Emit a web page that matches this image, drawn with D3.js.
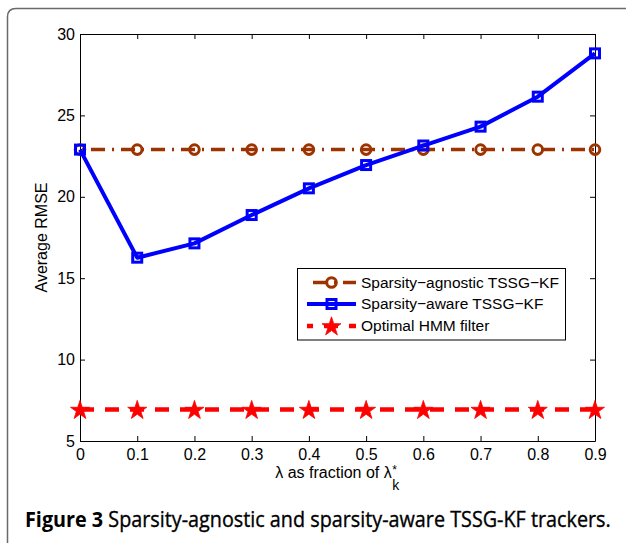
<!DOCTYPE html>
<html>
<head>
<meta charset="utf-8">
<script src="https://cdn.jsdelivr.net/npm/d3@7"></script>
<style>
  html, body { margin: 0; padding: 0; background: #fff; }
  svg { display: block; }
</style>
</head>
<body>
<svg id="chart" width="626" height="543"></svg>
<script>
// ---------------- data ----------------
const xValues = [0, 0.1, 0.2, 0.3, 0.4, 0.5, 0.6, 0.7, 0.8, 0.9];
const xTickLabels = ["0", "0.1", "0.2", "0.3", "0.4", "0.5", "0.6", "0.7", "0.8", "0.9"];
const yTickValues = [5, 10, 15, 20, 25, 30];
const agnosticValues = [22.9, 22.9, 22.9, 22.9, 22.9, 22.9, 22.9, 22.9, 22.9, 22.9];
const awareValues = [22.9, 16.26, 17.14, 18.88, 20.52, 21.95, 23.15, 24.31, 26.15, 28.81];
const hmmValues = [6.93, 6.93, 6.93, 6.93, 6.93, 6.93, 6.93, 6.93, 6.93, 6.93];
const seriesNames = ["Sparsity\u2212agnostic TSSG\u2212KF", "Sparsity\u2212aware TSSG\u2212KF", "Optimal HMM filter"];
const yLabel = "Average RMSE";
const captionBold = "Figure 3";
const captionRest = " Sparsity-agnostic and sparsity-aware TSSG-KF trackers.";

// ---------------- layout ----------------
const svg = d3.select("#chart");
const L = 80, R = 595, T = 34, B = 441;
const x = d3.scaleLinear().domain([0, 0.9]).range([L, R]);
const y = d3.scaleLinear().domain([5, 30]).range([B, T]);
const FONT = "'Liberation Sans', Arial, Helvetica, sans-serif";
const FS = 16;
const brown = "#9c3300", blue = "#0000ff", red = "#ff0000";

// outer figure frame (rounded top-left corner)
svg.append("path")
  .attr("d", "M7.5,560 L7.5,17 Q7.5,8.5 16,8.5 L640,8.5")
  .attr("fill", "none").attr("stroke", "#6a6a6a").attr("stroke-width", 1.5);

// plot background
svg.append("rect").attr("x", L).attr("y", T).attr("width", R - L).attr("height", B - T)
  .attr("fill", "#fff");

// axes
function styleAxis(g) {
  g.selectAll("path.domain").attr("stroke", "#000").attr("stroke-width", 1);
  g.selectAll(".tick line").attr("stroke", "#000").attr("stroke-width", 1);
  g.selectAll("text").attr("font-family", FONT).attr("font-size", FS).attr("fill", "#000");
}
svg.append("g").attr("transform", `translate(0,${B})`)
  .call(d3.axisBottom(x).tickValues(xValues).tickFormat((d, i) => xTickLabels[i])
    .tickSize(-5).tickSizeOuter(0).tickPadding(8))
  .call(styleAxis);
svg.append("g").attr("transform", `translate(0,${T})`)
  .call(d3.axisTop(x).tickValues(xValues).tickFormat("").tickSize(-5).tickSizeOuter(0))
  .call(styleAxis);
svg.append("g").attr("transform", `translate(${L},0)`)
  .call(d3.axisLeft(y).tickValues(yTickValues).tickFormat(d3.format("d"))
    .tickSize(-5).tickSizeOuter(0).tickPadding(5))
  .call(styleAxis);
svg.append("g").attr("transform", `translate(${R},0)`)
  .call(d3.axisRight(y).tickValues(yTickValues).tickFormat("").tickSize(-5).tickSizeOuter(0))
  .call(styleAxis);

// star path generator
function starPath(R0) {
  const r0 = R0 * 0.382;
  const pts = [];
  for (let i = 0; i < 10; i++) {
    const a = -Math.PI / 2 + i * Math.PI / 5;
    const rr = i % 2 === 0 ? R0 : r0;
    pts.push([rr * Math.cos(a), rr * Math.sin(a)]);
  }
  return "M" + pts.map(p => p[0].toFixed(2) + "," + p[1].toFixed(2)).join("L") + "Z";
}

const line = d3.line().x((d, i) => x(xValues[i])).y(d => y(d));
const plot = svg.append("g");

// agnostic: dash-dot brown with hollow circles
plot.append("path").datum(agnosticValues).attr("d", line)
  .attr("fill", "none").attr("stroke", brown).attr("stroke-width", 3.5)
  .attr("stroke-dasharray", "14,7,2,7").attr("stroke-dashoffset", 19);
plot.selectAll("circle.ag").data(agnosticValues).join("circle").attr("class", "ag")
  .attr("cx", (d, i) => x(xValues[i])).attr("cy", d => y(d)).attr("r", 4.8)
  .attr("fill", "none").attr("stroke", brown).attr("stroke-width", 3);

// aware: solid blue with hollow squares
plot.append("path").datum(awareValues).attr("d", line)
  .attr("fill", "none").attr("stroke", blue).attr("stroke-width", 4).attr("stroke-linejoin", "round");
plot.selectAll("rect.aw").data(awareValues).join("rect").attr("class", "aw")
  .attr("x", (d, i) => x(xValues[i]) - 4.5).attr("y", d => y(d) - 4.5)
  .attr("width", 9).attr("height", 9)
  .attr("fill", "none").attr("stroke", blue).attr("stroke-width", 3);

// HMM: dashed red with stars
plot.append("path").datum(hmmValues).attr("d", line)
  .attr("fill", "none").attr("stroke", red).attr("stroke-width", 4.5)
  .attr("stroke-dasharray", "14,11");
plot.selectAll("path.st").data(hmmValues).join("path").attr("class", "st")
  .attr("transform", (d, i) => `translate(${x(xValues[i])},${y(d) + 0.8})`)
  .attr("d", starPath(10)).attr("fill", red).attr("stroke", red).attr("stroke-width", 0.8);

// axis labels
svg.append("text").attr("transform", `translate(47,${(T + B) / 2}) rotate(-90)`)
  .attr("text-anchor", "middle").attr("font-family", FONT).attr("font-size", FS)
  .text(yLabel);

const xl = svg.append("text").attr("font-family", FONT).attr("font-size", FS)
  .attr("x", 0).attr("y", 478).text("\u03bb as fraction of \u03bb");
const wMain = xl.node().getComputedTextLength();
const xStart = (L + R) / 2 - (wMain + 8) / 2;
xl.attr("x", xStart);
svg.append("text").attr("font-family", FONT).attr("font-size", 12)
  .attr("x", xStart + wMain + 0.5).attr("y", 474).text("*");
svg.append("text").attr("font-family", FONT).attr("font-size", 14)
  .attr("x", xStart + wMain + 0.5).attr("y", 490).text("k");

// legend
const lg = svg.append("g");
lg.append("rect").attr("x", 297.5).attr("y", 268.5).attr("width", 268).attr("height", 71.5)
  .attr("fill", "#fff").attr("stroke", "#000").attr("stroke-width", 1);
const rowsY = [282.5, 304, 326];
const lx1 = 307, lx2 = 356, lmx = 331.5;
// row 1
lg.append("line").attr("x1", lx1).attr("x2", lx2).attr("y1", rowsY[0]).attr("y2", rowsY[0])
  .attr("stroke", brown).attr("stroke-width", 3.5).attr("stroke-dasharray", "14,7,2,7").attr("stroke-dashoffset", 24);
lg.append("circle").attr("cx", lmx).attr("cy", rowsY[0]).attr("r", 4.8)
  .attr("fill", "none").attr("stroke", brown).attr("stroke-width", 3);
// row 2
lg.append("line").attr("x1", lx1).attr("x2", lx2).attr("y1", rowsY[1]).attr("y2", rowsY[1])
  .attr("stroke", blue).attr("stroke-width", 4);
lg.append("rect").attr("x", lmx - 4.5).attr("y", rowsY[1] - 4.5).attr("width", 9).attr("height", 9)
  .attr("fill", "none").attr("stroke", blue).attr("stroke-width", 3);
// row 3
lg.append("line").attr("x1", lx1).attr("x2", lx2).attr("y1", rowsY[2]).attr("y2", rowsY[2])
  .attr("stroke", red).attr("stroke-width", 4.5).attr("stroke-dasharray", "14,11").attr("stroke-dashoffset", 8);
lg.append("path").attr("transform", `translate(${lmx},${rowsY[2] + 0.8})`)
  .attr("d", starPath(10)).attr("fill", red).attr("stroke", red).attr("stroke-width", 0.8);
lg.selectAll("text").data(seriesNames).join("text")
  .attr("x", 361).attr("y", (d, i) => rowsY[i]).attr("dy", "0.35em")
  .attr("font-family", FONT).attr("font-size", 15.5).text(d => d);

// caption
const cap = svg.append("text").attr("x", 25).attr("y", 527)
  .attr("font-family", "'Open Sans', 'Noto Sans', sans-serif").attr("font-size", 21).attr("fill", "#000");
cap.append("tspan").attr("font-weight", "bold").text(captionBold);
cap.append("tspan").attr("stroke", "#000").attr("stroke-width", 0.35).text(captionRest);
const cw = cap.node().getComputedTextLength();
const sx = 586 / cw;
cap.attr("transform", `translate(25,0) scale(${sx},1) translate(-25,0)`);
</script>
</body>
</html>
